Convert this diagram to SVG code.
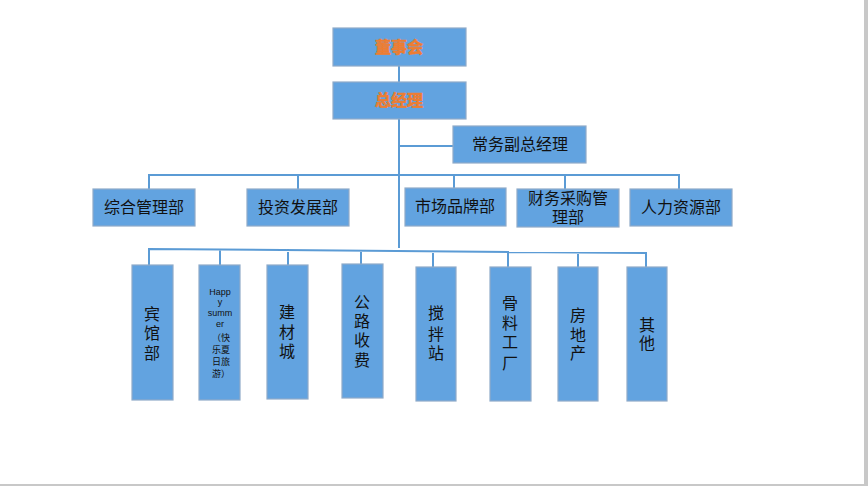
<svg xmlns="http://www.w3.org/2000/svg" width="868" height="486" viewBox="0 0 868 486">
<style>
.box{fill:#62a3e0;stroke:#8fabc9;stroke-width:1.2}
.t{font-family:"Liberation Sans","Noto Sans CJK SC",sans-serif;font-size:16px;fill:#111;text-anchor:middle}
.o{font-family:"Liberation Sans","Noto Sans CJK SC",sans-serif;font-size:16px;font-weight:bold;fill:#ed7d31;stroke:#ed7d31;stroke-width:0.6;text-anchor:middle}
.s{font-family:"Liberation Sans","Noto Sans CJK SC",sans-serif;font-size:9px;fill:#111;text-anchor:middle}
.c{fill:none;stroke:#5b9bd5;stroke-width:2}
</style>
<rect x="0" y="0" width="868" height="486" fill="#ffffff"/>
<rect x="864" y="0" width="4" height="486" fill="#c8c8c8"/>
<rect x="0" y="484" width="868" height="2" fill="#c8c8c8"/>
<g id="connectors">
<path class="c" d="M399 66V82M399 119V248M399 146H453"/>
<path class="c" d="M149 189V175H679V189M298 175V189M454 175V188M565 175V189"/>
<path class="c" d="M149 265V249L646 253V267M220 249V265M288 249V265M361 250V264M433 251V267M508 251V267M578 252V267"/>
</g>
<g id="n1"><rect class="box" x="333" y="28" width="133" height="38"/><text class="o" x="399" y="53">董事会</text></g>
<g id="n2"><rect class="box" x="333" y="82" width="133" height="37"/><text class="o" x="399" y="106">总经理</text></g>
<g id="n3"><rect class="box" x="453" y="126" width="133" height="37"/><text class="t" x="520" y="150">常务副总经理</text></g>
<g id="n4"><rect class="box" x="93" y="189" width="102" height="37"/><text class="t" x="144" y="213">综合管理部</text></g>
<g id="n5"><rect class="box" x="247" y="189" width="102" height="37"/><text class="t" x="298" y="213">投资发展部</text></g>
<g id="n6"><rect class="box" x="405" y="188" width="101" height="38"/><text class="t" x="455" y="212">市场品牌部</text></g>
<g id="n7"><rect class="box" x="517" y="189" width="102" height="38"/><text class="t" x="568" y="204">财务采购管</text><text class="t" x="568" y="223">理部</text></g>
<g id="n8"><rect class="box" x="630" y="189" width="102" height="37"/><text class="t" x="681" y="213">人力资源部</text></g>
<g id="n9"><rect class="box" x="132" y="265" width="41" height="135"/><text class="t" x="152" y="320">宾</text><text class="t" x="152" y="339">馆</text><text class="t" x="152" y="359">部</text></g>
<g id="n10"><rect class="box" x="199" y="265" width="41" height="135"/><text class="s" x="220" y="295">Happ</text><text class="s" x="220" y="305">y</text><text class="s" x="220" y="316">summ</text><text class="s" x="220" y="327">er</text><text class="s" x="221" y="341" font-size="11">（快</text><text class="s" x="221" y="353" font-size="11">乐夏</text><text class="s" x="221" y="365" font-size="11">日旅</text><text class="s" x="221" y="377" font-size="11">游）</text></g>
<g id="n11"><rect class="box" x="267" y="265" width="41" height="134"/><text class="t" x="287" y="318">建</text><text class="t" x="287" y="338">材</text><text class="t" x="287" y="357">城</text></g>
<g id="n12"><rect class="box" x="342" y="264" width="41" height="134"/><text class="t" x="362" y="308">公</text><text class="t" x="362" y="327">路</text><text class="t" x="362" y="346">收</text><text class="t" x="362" y="366">费</text></g>
<g id="n13"><rect class="box" x="416" y="267" width="40" height="134"/><text class="t" x="436" y="319">搅</text><text class="t" x="436" y="340">拌</text><text class="t" x="436" y="359">站</text></g>
<g id="n14"><rect class="box" x="490" y="267" width="41" height="134"/><text class="t" x="510" y="309">骨</text><text class="t" x="510" y="329">料</text><text class="t" x="510" y="348">工</text><text class="t" x="510" y="369">厂</text></g>
<g id="n15"><rect class="box" x="558" y="267" width="40" height="134"/><text class="t" x="578" y="321">房</text><text class="t" x="578" y="341">地</text><text class="t" x="578" y="359">产</text></g>
<g id="n16"><rect class="box" x="627" y="267" width="40" height="134"/><text class="t" x="647" y="331">其</text><text class="t" x="647" y="349">他</text></g>
</svg>
